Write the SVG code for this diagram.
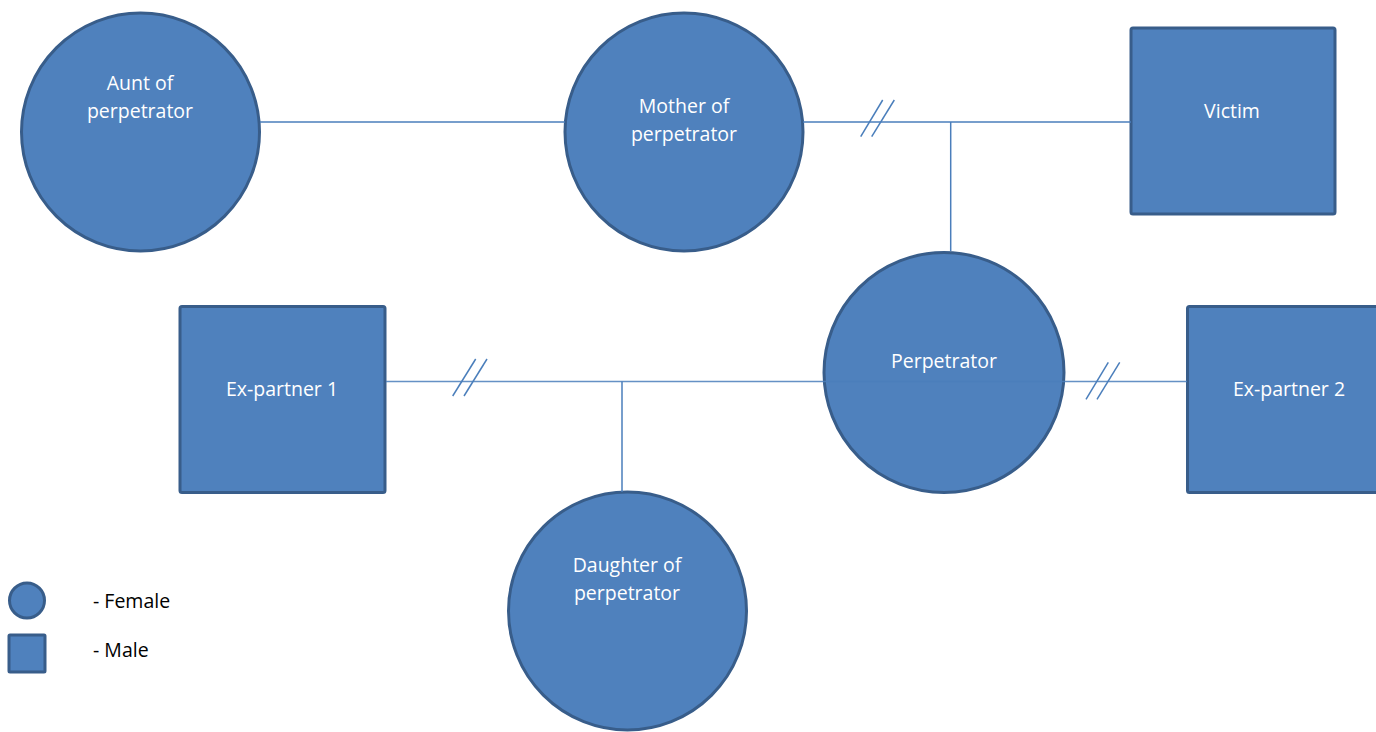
<svg xmlns="http://www.w3.org/2000/svg" width="1376" height="732" viewBox="0 0 1376 732">
<style>
.shape{fill:#4f81bd;stroke:#385d8a;stroke-width:3}
.lbl{font-family:"Open Sans","Liberation Sans",sans-serif;font-size:19.5px;fill:#ffffff;text-anchor:middle}
.leg{font-family:"Open Sans","Liberation Sans",sans-serif;font-size:19.5px;fill:#000000}
.ln{stroke:#4a7ebb;stroke-width:1.5;fill:none}
</style>
<rect width="1376" height="732" fill="#ffffff"/>
<g id="aunt"><circle class="shape" cx="140.5" cy="132" r="119"/><text class="lbl" x="140" y="90">Aunt of</text><text class="lbl" x="140" y="118">perpetrator</text></g>
<g id="mother"><circle class="shape" cx="684" cy="132" r="119"/><text class="lbl" x="684" y="113">Mother of</text><text class="lbl" x="684" y="141">perpetrator</text></g>
<g id="victim"><rect class="shape" x="1131" y="28" width="204" height="186" rx="2"/><text class="lbl" x="1232" y="118">Victim</text></g>
<g id="perpetrator"><circle class="shape" cx="944" cy="372.5" r="120"/><text class="lbl" x="944" y="368">Perpetrator</text></g>
<g id="expartner1"><rect class="shape" x="180" y="306.5" width="205" height="186" rx="2"/><text class="lbl" x="282" y="396">Ex-partner 1</text></g>
<g id="expartner2"><rect class="shape" x="1187.5" y="306.5" width="205" height="186" rx="2"/><text class="lbl" x="1289" y="396">Ex-partner 2</text></g>
<g id="daughter"><circle class="shape" cx="627.5" cy="611" r="119"/><text class="lbl" x="627" y="572">Daughter of</text><text class="lbl" x="627" y="600">perpetrator</text></g>
<g id="connectors">
<line class="ln" x1="260" y1="122" x2="565" y2="122"/>
<line class="ln" x1="803" y1="122" x2="1131" y2="122"/>
<line class="ln" x1="860.7" y1="136.7" x2="882.7" y2="100"/>
<line class="ln" x1="871.7" y1="136.7" x2="894.3" y2="100"/>
<line class="ln" x1="950.7" y1="122" x2="950.7" y2="251"/>
<line class="ln" x1="386" y1="381.5" x2="1187" y2="381.5" stroke-opacity="0.85"/>
<line class="ln" x1="452.7" y1="396" x2="475.7" y2="359"/>
<line class="ln" x1="464" y1="396" x2="487" y2="359"/>
<line class="ln" x1="622" y1="381.5" x2="622" y2="492"/>
<line class="ln" x1="1086" y1="399.3" x2="1108.3" y2="362.3"/>
<line class="ln" x1="1097" y1="399.3" x2="1119.7" y2="362.3"/>
</g>
<g id="legend">
<circle class="shape" cx="27" cy="600.5" r="17.5"/>
<rect class="shape" x="9" y="635" width="36" height="37" rx="1"/>
<text class="leg" x="93" y="608">- Female</text>
<text class="leg" x="93" y="657">- Male</text>
</g>
</svg>
